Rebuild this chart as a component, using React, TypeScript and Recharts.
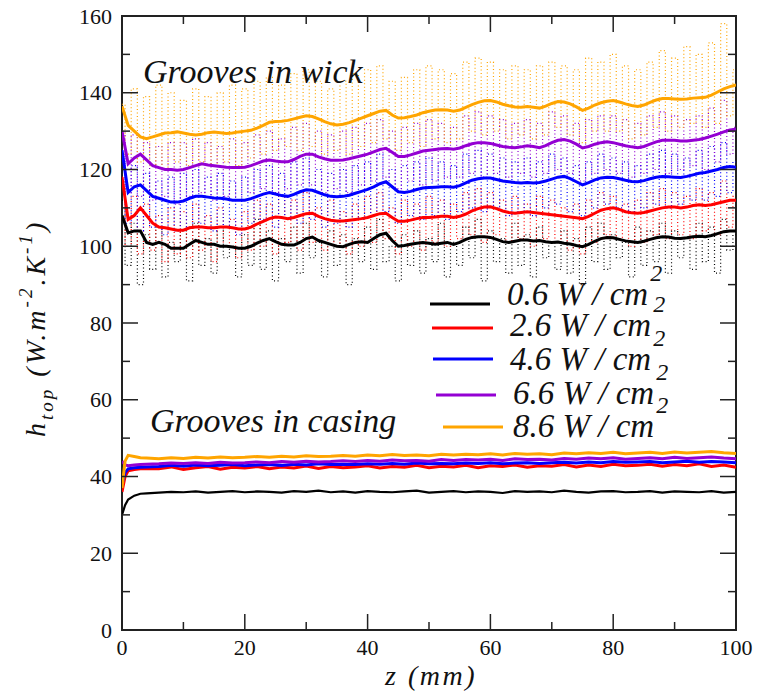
import React from 'react';
import { LineChart, Line, XAxis, YAxis, ReferenceArea } from 'recharts';

// ---------------- data ----------------
const zWick: number[] = Array.from({ length: 101 }, (_, i) => i);

const wickSmooth06 = [
  108, 103.5, 104, 104, 101, 100.5, 101, 100.5, 99.5, 99.5,
  99.5, 100.5, 101.5, 101, 100.5, 100.5, 100, 100, 99.8, 99.5,
  99.5, 100, 100.8, 101.5, 102, 101.2, 100.5, 100.3, 100.3, 101,
  102, 102.4, 101.5, 101, 100.5, 100, 99.9, 100.5, 101, 101.2,
  101, 102, 103, 103.4, 101.5, 100, 100.2, 100.5, 100.8, 101,
  100.8, 100.5, 100.8, 101, 100.5, 101, 101.8, 102.3, 102.5, 102.5,
  102.3, 101.8, 101.2, 101, 101.3, 101.6, 101.6, 101.4, 101.5, 101.2,
  101, 101.1, 100.8, 100.6, 100.2, 99.9, 100.5, 101.3, 102, 102.3,
  102.2, 101.8, 101.4, 101.2, 101, 101.3, 101.8, 102.2, 102.5, 102.4,
  102.1, 102, 102.2, 102.5, 102.6, 102.5, 102.8, 103.3, 103.8, 104,
  104,
];
const wickSmooth26 = [
  118, 107, 108, 110, 108, 106, 105, 104.8, 104.5, 104.2,
  104.2, 104.8, 105, 105, 104.8, 104.8, 105, 105, 104.8, 104.5,
  104.5, 105, 105.8, 106.5, 107.2, 107.6, 107.5, 107.2, 107.5, 108,
  108.5, 108.6, 107.8, 107.2, 106.8, 106.6, 106.6, 106.8, 107, 107.2,
  107.5, 108, 108.5, 108.6, 107.5, 106.5, 106.5, 106.8, 107.2, 107.5,
  107.5, 107.6, 107.8, 107.8, 107.5, 107.8, 108.4, 109.2, 109.8, 110.2,
  110.3, 109.8, 109.2, 108.8, 108.6, 108.8, 109, 108.8, 108.6, 108.4,
  108.2, 108, 107.8, 107.6, 107.4, 107.2, 107.8, 108.6, 109.4, 109.8,
  110, 109.6, 109, 108.7, 108.6, 108.8, 109.2, 109.6, 110, 110.2,
  110.2, 110, 110.2, 110.6, 110.8, 110.6, 110.8, 111.2, 111.6, 112,
  112,
];
const wickSmooth46 = [
  125, 114, 115.5, 116, 114.5, 113, 112.5, 112, 111.5, 111.5,
  111.8, 112.5, 113, 113, 112.8, 112.6, 112.5, 112.3, 112, 112,
  112, 112.4, 113, 113.6, 114, 113.6, 113.2, 113, 113.5, 114.2,
  114.7, 114.6, 114, 113.4, 113, 112.9, 113, 113.3, 113.8, 114.3,
  114.8, 115.5, 116.3, 116.8, 115.5, 114.2, 114, 114.3, 114.8, 115.2,
  115.3, 115.4, 115.5, 115.5, 115.4, 115.8, 116.5, 117.2, 117.6, 117.8,
  117.8, 117.4, 117, 116.8, 116.6, 116.5, 116.6, 116.5, 116.6, 117,
  117.5, 118, 118.2, 117.6, 116.8, 116, 116.6, 117.3, 117.8, 118,
  117.9, 117.6, 117.2, 116.9, 116.8, 117.1, 117.6, 118, 118.2, 118.1,
  118, 117.9, 118.2, 118.6, 119, 119.2, 119.6, 120, 120.5, 120.8,
  120.6,
];
const wickSmooth66 = [
  130, 121.5, 123, 124, 122.5, 121, 120.5, 120, 120, 119.8,
  120, 120.5, 121, 121.5, 121.2, 121, 120.8, 120.6, 120.5, 120.5,
  120.6, 121, 121.6, 122.2, 122.5, 122.2, 122, 122, 122.6, 123.4,
  124, 124, 123.3, 122.8, 122.4, 122.4, 122.5, 122.8, 123.2, 123.6,
  124, 124.6, 125.2, 125.5, 124.5, 123.4, 123.4, 123.8, 124.3, 124.8,
  125, 125.2, 125.4, 125.5, 125.3, 125.6, 126.2, 126.7, 127, 127,
  126.8, 126.4, 126, 125.8, 125.7, 125.9, 126.2, 126, 125.7, 126.2,
  127, 127.6, 127.8, 127.4, 126.6, 125.6, 126, 126.6, 127, 127.2,
  127, 126.6, 126.2, 125.9, 125.7, 126, 126.6, 127.2, 127.6, 127.6,
  127.6, 127.4, 127.4, 127.6, 127.8, 128.2, 128.7, 129.2, 129.8, 130.3,
  130.5,
];
const wickSmooth86 = [
  136.5, 131.5, 130, 128.5, 128, 128.5, 129, 129.5, 129.6, 129.8,
  129.5, 129.2, 129, 129.2, 129.6, 129.8, 129.6, 129.4, 129.5, 129.8,
  130, 130.2, 130.8, 131.5, 132.3, 132.5, 132.6, 132.8, 133.2, 133.6,
  134, 133.8, 133.2, 132.5, 131.9, 131.6, 131.8, 132.2, 132.8, 133.4,
  134, 134.6, 135.2, 135.4, 134.2, 133.4, 133.5, 133.8, 134.2, 134.8,
  135.2, 135.5, 135.6, 135.5, 135.2, 135.5, 136.2, 136.9, 137.5, 137.9,
  138, 137.6, 137, 136.6, 136.3, 136.2, 136.4, 136.2, 136, 136.5,
  137.2, 137.7, 137.6, 137.1, 136.3, 135.4, 136, 136.8, 137.4, 137.8,
  138, 137.6, 137.1, 136.7, 136.4, 136.8, 137.5, 138.1, 138.5, 138.5,
  138.4, 138.3, 138.4, 138.6, 138.7, 138.8, 139.4, 140.2, 141, 141.6,
  142,
];

const wickRaw06 = [
  112, 95, 106, 90, 103, 94, 105, 92, 101, 96,
  104, 91, 106, 95, 102, 93, 105, 97, 100, 92,
  103, 95, 107, 94, 104, 91, 102, 96, 105, 93,
  106, 97, 101, 92, 104, 95, 103, 90, 102, 96,
  105, 94, 107, 96, 100, 91, 103, 95, 104, 93,
  102, 96, 106, 92, 101, 95, 105, 97, 107, 91,
  104, 96, 102, 93, 106, 95, 103, 92, 105, 97,
  101, 94, 104, 93, 102, 90, 105, 96, 106, 94,
  103, 97, 101, 92, 105, 95, 104, 96, 106, 93,
  104, 97, 102, 94, 106, 96, 105, 93, 107, 99,
  103,
];
const wickRaw26 = [
  118, 100, 113, 98, 111, 99, 108, 96, 110, 98,
  109, 97, 111, 99, 108, 96, 110, 100, 107, 97,
  109, 99, 112, 100, 111, 98, 113, 101, 112, 99,
  114, 101, 110, 99, 112, 100, 109, 98, 111, 100,
  113, 101, 114, 102, 110, 98, 112, 100, 111, 99,
  113, 101, 112, 100, 111, 102, 114, 103, 115, 101,
  114, 103, 112, 101, 113, 102, 111, 100, 113, 102,
  112, 101, 110, 99, 111, 98, 112, 101, 114, 103,
  113, 102, 111, 100, 112, 101, 114, 103, 115, 102,
  114, 103, 113, 102, 115, 104, 114, 103, 117, 105,
  113,
];
const wickRaw46 = [
  125, 106, 121, 104, 119, 105, 117, 103, 118, 104,
  119, 105, 120, 106, 118, 104, 119, 105, 117, 103,
  118, 106, 120, 107, 121, 105, 119, 107, 122, 106,
  123, 107, 120, 105, 119, 106, 120, 105, 121, 107,
  122, 108, 124, 109, 120, 106, 121, 108, 122, 107,
  123, 108, 122, 107, 121, 109, 124, 110, 125, 109,
  124, 110, 123, 108, 122, 109, 123, 108, 122, 110,
  124, 111, 123, 109, 121, 108, 122, 110, 124, 111,
  123, 110, 122, 109, 121, 110, 124, 111, 125, 110,
  124, 111, 123, 112, 125, 112, 126, 113, 127, 114,
  122,
];
const wickRaw66 = [
  130, 114, 129, 113, 127, 112, 126, 113, 127, 111,
  127, 113, 128, 114, 127, 112, 126, 113, 128, 112,
  127, 114, 129, 115, 130, 114, 128, 115, 131, 116,
  132, 116, 130, 114, 129, 115, 130, 114, 131, 116,
  132, 117, 133, 118, 130, 115, 131, 117, 132, 116,
  133, 117, 132, 118, 131, 118, 134, 119, 135, 118,
  134, 119, 133, 118, 132, 119, 133, 118, 132, 119,
  135, 120, 134, 119, 132, 117, 133, 119, 134, 120,
  134, 119, 133, 118, 132, 119, 134, 120, 135, 119,
  134, 120, 133, 121, 134, 120, 136, 122, 138, 124,
  131,
];
const wickRaw86 = [
  137, 124, 141, 122, 139, 121, 142, 120, 140, 122,
  138, 121, 141, 122, 139, 121, 140, 122, 142, 121,
  141, 123, 143, 124, 144, 125, 142, 126, 145, 125,
  146, 126, 143, 124, 141, 125, 143, 124, 145, 126,
  146, 127, 147, 128, 143, 125, 144, 127, 146, 126,
  147, 128, 146, 127, 145, 128, 148, 130, 149, 129,
  148, 130, 146, 128, 147, 129, 146, 128, 147, 129,
  148, 131, 147, 129, 146, 127, 149, 130, 148, 130,
  150, 130, 147, 128, 146, 129, 148, 131, 151, 130,
  149, 131, 152, 132, 150, 131, 153, 132, 158, 134,
  146,
];

const zCasing = [
  0, 0.5, 1, 2, 3, 4,
  6, 8, 10, 12, 14, 16, 18, 20,
  22, 24, 26, 28, 30, 32, 34, 36,
  38, 40, 42, 44, 46, 48, 50, 52,
  54, 56, 58, 60, 62, 64, 66, 68,
  70, 72, 74, 76, 78, 80, 82, 84,
  86, 88, 90, 92, 94, 96, 98, 100,
];
const casing06 = [
  30, 32.5, 34, 35, 35.5, 35.6,
  35.8, 36.0, 35.9, 36.1, 35.8, 36.0, 36.2, 35.9,
  36.1, 36.0, 35.8, 36.2, 36.0, 36.3, 35.9, 36.1,
  35.8, 36.2, 36.0, 35.9, 36.1, 36.3, 35.8, 36.0,
  36.2, 35.9, 36.1, 36.0, 35.7, 36.2, 36.0, 36.1,
  35.9, 36.3, 36.0, 35.8, 36.1, 36.2, 35.9, 36.0,
  36.2, 35.8, 36.1, 36.0, 35.9, 36.2, 35.8, 36.0,
];
const casing26 = [
  36, 40, 41.5, 41.8, 42, 42.1,
  42.0, 42.5, 41.8, 42.3, 42.6, 41.9, 42.4, 42.2,
  42.6, 42.0, 42.5, 42.2, 42.7, 42.1, 42.6, 42.3,
  42.5, 42.8, 42.2, 42.6, 42.4, 42.9, 42.3, 42.7,
  42.5, 42.9, 42.3, 42.8, 42.6, 43.0, 42.4, 42.8,
  42.7, 43.1, 42.5, 43.0, 42.6, 43.2, 42.8, 42.9,
  43.2, 42.7, 43.1, 42.8, 43.3, 42.6, 43.0, 42.4,
];
const casing46 = [
  38, 41, 42, 42.3, 42.4, 42.5,
  42.6, 42.9, 42.7, 43.0, 42.8, 42.9, 43.1, 42.8,
  43.0, 43.1, 42.9, 43.2, 43.0, 43.3, 43.1, 43.2,
  43.1, 43.3, 43.2, 43.4, 43.2, 43.5, 43.3, 43.4,
  43.3, 43.5, 43.4, 43.6, 43.3, 43.5, 43.6, 43.4,
  43.6, 43.7, 43.5, 43.8, 43.6, 43.9, 43.7, 43.8,
  43.9, 43.6, 43.8, 44.0, 43.7, 43.9, 43.8, 43.6,
];
const casing66 = [
  44, 43, 42.8, 43, 43.1, 43.2,
  43.3, 43.5, 43.4, 43.6, 43.4, 43.7, 43.5, 43.6,
  43.8, 43.6, 43.9, 43.7, 44.0, 43.8, 43.9, 44.1,
  43.9, 44.2, 44.0, 44.3, 44.1, 44.2, 44.0, 44.4,
  44.2, 44.4, 44.3, 44.5, 44.2, 44.6, 44.4, 44.5,
  44.3, 44.7, 44.5, 44.8, 44.6, 44.9, 44.5, 44.7,
  44.9, 44.6, 45.0, 44.7, 44.9, 45.1, 44.8, 44.6,
];
const casing86 = [
  37, 44, 45.5, 45.2, 44.9, 44.8,
  44.6, 44.9, 44.7, 45.0, 44.8, 45.1, 44.9, 45.0,
  45.2, 45.0, 45.3, 45.1, 45.4, 45.2, 45.3, 45.5,
  45.3, 45.6, 45.4, 45.7, 45.5, 45.6, 45.4, 45.8,
  45.6, 45.8, 45.7, 45.9, 45.6, 46.0, 45.8, 45.9,
  45.7, 46.1, 45.9, 46.2, 46.0, 46.3, 45.9, 46.1,
  46.3, 46.0, 46.4, 46.1, 46.3, 46.5, 46.2, 46.0,
];

const legendLabels = ['0.6 W / cm', '2.6 W / cm', '4.6 W / cm', '6.6 W / cm', '8.6 W / cm'];
const xTicks = [0, 10, 20, 30, 40, 50, 60, 70, 80, 90, 100];
const yTicks = [0, 10, 20, 30, 40, 50, 60, 70, 80, 90, 100, 110, 120, 130, 140, 150, 160];

// ---------------- layout / style ----------------
const W = 757;
const H = 697;
const PL = 122;
const PR = 736;
const PT = 16;
const PB = 630;
const Y_AXIS_W = 60;
const X_AXIS_H = 30;
const SERIF = '"Liberation Serif", "Times New Roman", Times, "DejaVu Serif", serif';
const AXIS_COLOR = '#222';
const TEXT_COLOR = '#111';
const COLORS = ['#000000', '#ff0000', '#0000ff', '#9400d3', '#ffa500'];
const LEGEND_LINES = [
  { x1: 430, x2: 490, y: 304, tx: 507, ty: 305 },
  { x1: 432, x2: 493, y: 328, tx: 510, ty: 336 },
  { x1: 433, x2: 493, y: 359, tx: 510, ty: 370 },
  { x1: 436, x2: 496, y: 395, tx: 513, ty: 404 },
  { x1: 443, x2: 503, y: 427, tx: 513, ty: 437 },
];

const serifStyle: React.CSSProperties = { fontFamily: SERIF };
const italicStyle: React.CSSProperties = { fontFamily: SERIF, fontStyle: 'italic' };

const wickData = zWick.map((z, i) => ({
  z,
  s0: wickSmooth06[i],
  s1: wickSmooth26[i],
  s2: wickSmooth46[i],
  s3: wickSmooth66[i],
  s4: wickSmooth86[i],
  r0: wickRaw06[i],
  r1: wickRaw26[i],
  r2: wickRaw46[i],
  r3: wickRaw66[i],
  r4: wickRaw86[i],
}));
const casingData = zCasing.map((z, i) => ({
  z,
  c0: casing06[i],
  c1: casing26[i],
  c2: casing46[i],
  c3: casing66[i],
  c4: casing86[i],
}));

const YTick = (props: any) => {
  const { y, payload } = props;
  const v = payload.value as number;
  const major = v % 20 === 0;
  const len = major ? 16 : 8;
  return (
    <g>
      <line x1={PL} x2={PL + len} y1={y} y2={y} stroke={AXIS_COLOR} strokeWidth={1.5} />
      <line x1={PR - len} x2={PR} y1={y} y2={y} stroke={AXIS_COLOR} strokeWidth={1.5} />
      {major && (
        <text x={112} y={y + 7.5} textAnchor="end" fontSize={22} style={serifStyle} fill={TEXT_COLOR}>
          {v}
        </text>
      )}
    </g>
  );
};

const XTick = (props: any) => {
  const { x, payload } = props;
  const v = payload.value as number;
  const major = v % 20 === 0;
  const len = major ? 16 : 8;
  return (
    <g>
      <line x1={x} x2={x} y1={PB - len} y2={PB} stroke={AXIS_COLOR} strokeWidth={1.5} />
      <line x1={x} x2={x} y1={PT} y2={PT + len} stroke={AXIS_COLOR} strokeWidth={1.5} />
      {major && (
        <text x={x} y={655} textAnchor="middle" fontSize={22} style={serifStyle} fill={TEXT_COLOR}>
          {v}
        </text>
      )}
    </g>
  );
};

export default function App() {
  const rawKeys = ['r0', 'r1', 'r2', 'r3', 'r4'];
  const smoothKeys = ['s0', 's1', 's2', 's3', 's4'];
  const casingKeys = ['c0', 'c1', 'c2', 'c3', 'c4'];
  return (
    <div style={{ position: 'absolute', left: 0, top: 0, width: W, height: H, background: '#fff' }}>
      <LineChart
        width={W}
        height={H}
        margin={{ top: PT, right: W - PR, left: PL - Y_AXIS_W, bottom: H - PB - X_AXIS_H }}
      >
        <XAxis
          dataKey="z"
          type="number"
          domain={[0, 100]}
          ticks={xTicks}
          interval={0}
          height={X_AXIS_H}
          axisLine={false}
          tickLine={false}
          tick={<XTick />}
          allowDataOverflow
        />
        <YAxis
          type="number"
          domain={[0, 160]}
          ticks={yTicks}
          interval={0}
          width={Y_AXIS_W}
          axisLine={false}
          tickLine={false}
          tick={<YTick />}
          allowDataOverflow
        />
        {rawKeys.map((k, i) => (
          <Line
            key={k}
            data={wickData}
            dataKey={k}
            type="step"
            stroke={COLORS[i]}
            strokeWidth={1.2}
            strokeDasharray="1 2.5"
            dot={false}
            activeDot={false}
            isAnimationActive={false}
          />
        ))}
        {casingKeys.map((k, i) => (
          <Line
            key={k}
            data={casingData}
            dataKey={k}
            type="linear"
            stroke={COLORS[i]}
            strokeWidth={i === 0 ? 2.2 : 3}
            dot={false}
            activeDot={false}
            isAnimationActive={false}
          />
        ))}
        {smoothKeys.map((k, i) => (
          <Line
            key={k}
            data={wickData}
            dataKey={k}
            type="linear"
            stroke={COLORS[i]}
            strokeWidth={3}
            dot={false}
            activeDot={false}
            isAnimationActive={false}
          />
        ))}
        <ReferenceArea x1={0} x2={100} y1={0} y2={160} fill="none" stroke={AXIS_COLOR} strokeWidth={2} />
      </LineChart>
      <svg
        width={W}
        height={H}
        style={{ position: 'absolute', left: 0, top: 0, pointerEvents: 'none' }}
      >
        <text x={143} y={83} fontSize={34} style={italicStyle} fill={TEXT_COLOR}>
          Grooves in wick
        </text>
        <text x={150} y={432} fontSize={34} style={italicStyle} fill={TEXT_COLOR}>
          Grooves in casing
        </text>
        {LEGEND_LINES.map((l, i) => (
          <g key={i}>
            <line x1={l.x1} x2={l.x2} y1={l.y} y2={l.y} stroke={COLORS[i]} strokeWidth={3} />
            <text x={l.tx} y={l.ty} fontSize={33} style={italicStyle} fill={TEXT_COLOR}>
              {legendLabels[i]}
              <tspan fontSize={24} dy={-24} dx={2}>2</tspan>
            </text>
          </g>
        ))}
        <text x={385} y={685} fontSize={28} style={{ ...italicStyle, letterSpacing: 2.5 }} fill={TEXT_COLOR}>
          z (mm)
        </text>
        <text
          transform="translate(45, 437) rotate(-90)"
          x={0}
          y={0}
          fontSize={28}
          style={{ ...italicStyle, letterSpacing: 3 }}
          fill={TEXT_COLOR}
        >
          h
          <tspan fontSize={19} dy={8}>top</tspan>
          <tspan dy={-8}> (W.m</tspan>
          <tspan fontSize={19} dy={-13}>-2</tspan>
          <tspan dy={13}>.K</tspan>
          <tspan fontSize={19} dy={-13}>-1</tspan>
          <tspan dy={13}>)</tspan>
        </text>
      </svg>
    </div>
  );
}
